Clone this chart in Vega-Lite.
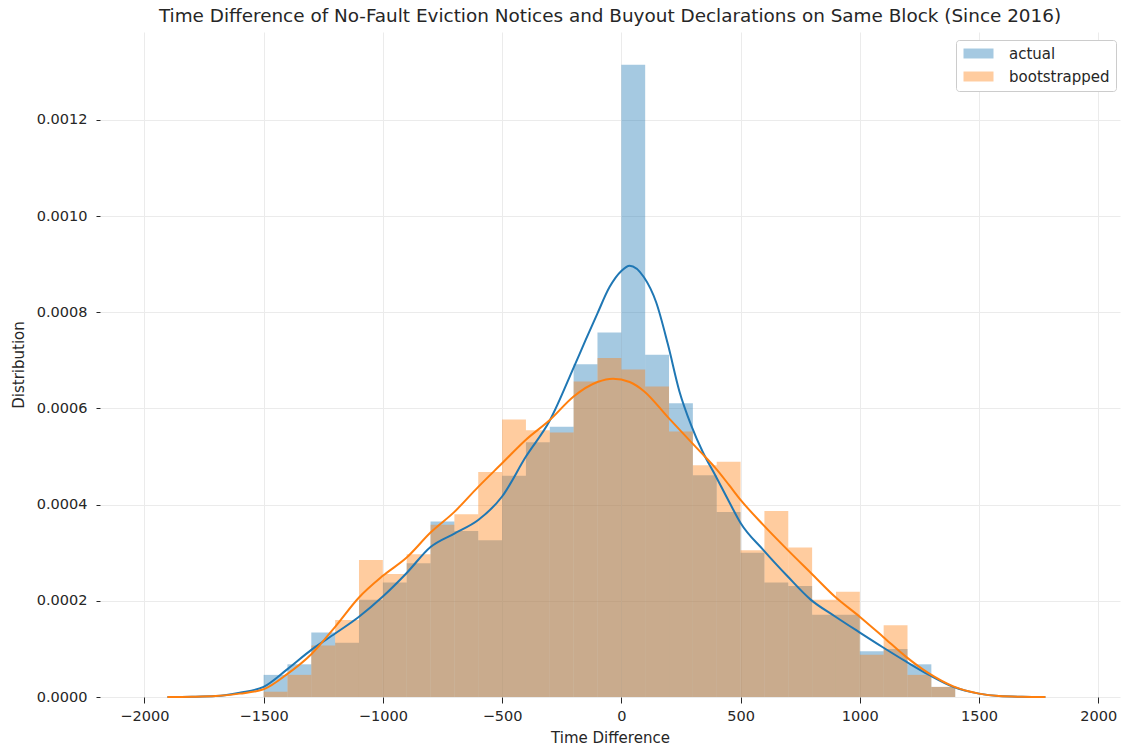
{
  "$schema": "https://vega.github.io/schema/vega-lite/v6.json",
  "width": 1020,
  "height": 665,
  "autosize": {"type": "none"},
  "padding": {"left": 100, "top": 32, "right": 3, "bottom": 49},
  "background": "white",
  "title": {
    "text": "Time Difference of No-Fault Eviction Notices and Buyout Declarations on Same Block (Since 2016)",
    "font": "DejaVu Sans",
    "fontSize": 18.4,
    "fontWeight": "normal",
    "color": "#262626",
    "anchor": "middle",
    "offset": 7
  },
  "config": {
    "view": {"stroke": null},
    "font": "DejaVu Sans",
    "axis": {
      "labelFont": "DejaVu Sans",
      "titleFont": "DejaVu Sans",
      "labelFontSize": 14.5,
      "titleFontSize": 15,
      "titleFontWeight": "normal",
      "labelColor": "#262626",
      "titleColor": "#262626",
      "gridColor": "#ebebeb",
      "gridWidth": 1,
      "domain": false,
      "tickColor": "#262626",
      "tickWidth": 1
    },
    "legend": {
      "labelFont": "DejaVu Sans",
      "labelFontSize": 15,
      "labelColor": "#262626"
    }
  },
  "datasets": {
    "hist": [
      {"series": "actual", "bin_start": -1500, "bin_end": -1400, "density": 0.000046},
      {"series": "actual", "bin_start": -1400, "bin_end": -1300, "density": 0.000068},
      {"series": "actual", "bin_start": -1300, "bin_end": -1200, "density": 0.000134},
      {"series": "actual", "bin_start": -1200, "bin_end": -1100, "density": 0.000113},
      {"series": "actual", "bin_start": -1100, "bin_end": -1000, "density": 0.000202},
      {"series": "actual", "bin_start": -1000, "bin_end": -900, "density": 0.000238},
      {"series": "actual", "bin_start": -900, "bin_end": -800, "density": 0.000278},
      {"series": "actual", "bin_start": -800, "bin_end": -700, "density": 0.000365},
      {"series": "actual", "bin_start": -700, "bin_end": -600, "density": 0.000345},
      {"series": "actual", "bin_start": -600, "bin_end": -500, "density": 0.000326},
      {"series": "actual", "bin_start": -500, "bin_end": -400, "density": 0.00046},
      {"series": "actual", "bin_start": -400, "bin_end": -300, "density": 0.00053},
      {"series": "actual", "bin_start": -300, "bin_end": -200, "density": 0.000562},
      {"series": "actual", "bin_start": -200, "bin_end": -100, "density": 0.000692},
      {"series": "actual", "bin_start": -100, "bin_end": 0, "density": 0.000758},
      {"series": "actual", "bin_start": 0, "bin_end": 100, "density": 0.001315},
      {"series": "actual", "bin_start": 100, "bin_end": 200, "density": 0.000712},
      {"series": "actual", "bin_start": 200, "bin_end": 300, "density": 0.000611},
      {"series": "actual", "bin_start": 300, "bin_end": 400, "density": 0.000461},
      {"series": "actual", "bin_start": 400, "bin_end": 500, "density": 0.000385},
      {"series": "actual", "bin_start": 500, "bin_end": 600, "density": 0.0003},
      {"series": "actual", "bin_start": 600, "bin_end": 700, "density": 0.000238},
      {"series": "actual", "bin_start": 700, "bin_end": 800, "density": 0.000231},
      {"series": "actual", "bin_start": 800, "bin_end": 900, "density": 0.000171},
      {"series": "actual", "bin_start": 900, "bin_end": 1000, "density": 0.000171},
      {"series": "actual", "bin_start": 1000, "bin_end": 1100, "density": 0.000095},
      {"series": "actual", "bin_start": 1100, "bin_end": 1200, "density": 0.0001},
      {"series": "actual", "bin_start": 1200, "bin_end": 1300, "density": 0.000068},
      {"series": "actual", "bin_start": 1300, "bin_end": 1400, "density": 0.000021},
      {"series": "bootstrapped", "bin_start": -1500, "bin_end": -1400, "density": 0.000011},
      {"series": "bootstrapped", "bin_start": -1400, "bin_end": -1300, "density": 0.000046},
      {"series": "bootstrapped", "bin_start": -1300, "bin_end": -1200, "density": 0.000107},
      {"series": "bootstrapped", "bin_start": -1200, "bin_end": -1100, "density": 0.00016},
      {"series": "bootstrapped", "bin_start": -1100, "bin_end": -1000, "density": 0.000285},
      {"series": "bootstrapped", "bin_start": -1000, "bin_end": -900, "density": 0.000256},
      {"series": "bootstrapped", "bin_start": -900, "bin_end": -800, "density": 0.000297},
      {"series": "bootstrapped", "bin_start": -800, "bin_end": -700, "density": 0.000358},
      {"series": "bootstrapped", "bin_start": -700, "bin_end": -600, "density": 0.00038},
      {"series": "bootstrapped", "bin_start": -600, "bin_end": -500, "density": 0.000468},
      {"series": "bootstrapped", "bin_start": -500, "bin_end": -400, "density": 0.000577},
      {"series": "bootstrapped", "bin_start": -400, "bin_end": -300, "density": 0.000555},
      {"series": "bootstrapped", "bin_start": -300, "bin_end": -200, "density": 0.00055},
      {"series": "bootstrapped", "bin_start": -200, "bin_end": -100, "density": 0.000656},
      {"series": "bootstrapped", "bin_start": -100, "bin_end": 0, "density": 0.000705},
      {"series": "bootstrapped", "bin_start": 0, "bin_end": 100, "density": 0.000681},
      {"series": "bootstrapped", "bin_start": 100, "bin_end": 200, "density": 0.000646},
      {"series": "bootstrapped", "bin_start": 200, "bin_end": 300, "density": 0.000552},
      {"series": "bootstrapped", "bin_start": 300, "bin_end": 400, "density": 0.000482},
      {"series": "bootstrapped", "bin_start": 400, "bin_end": 500, "density": 0.000489},
      {"series": "bootstrapped", "bin_start": 500, "bin_end": 600, "density": 0.000305},
      {"series": "bootstrapped", "bin_start": 600, "bin_end": 700, "density": 0.000387},
      {"series": "bootstrapped", "bin_start": 700, "bin_end": 800, "density": 0.000311},
      {"series": "bootstrapped", "bin_start": 800, "bin_end": 900, "density": 0.000202},
      {"series": "bootstrapped", "bin_start": 900, "bin_end": 1000, "density": 0.000219},
      {"series": "bootstrapped", "bin_start": 1000, "bin_end": 1100, "density": 0.000088},
      {"series": "bootstrapped", "bin_start": 1100, "bin_end": 1200, "density": 0.000149},
      {"series": "bootstrapped", "bin_start": 1200, "bin_end": 1300, "density": 0.000046},
      {"series": "bootstrapped", "bin_start": 1300, "bin_end": 1400, "density": 0.000021}
    ],
    "kde": [
      {"series": "actual", "x": -1903, "density": 0.0},
      {"series": "actual", "x": -1800, "density": 0.0000005},
      {"series": "actual", "x": -1700, "density": 0.000002},
      {"series": "actual", "x": -1600, "density": 0.000009},
      {"series": "actual", "x": -1500, "density": 0.000021},
      {"series": "actual", "x": -1400, "density": 0.000058},
      {"series": "actual", "x": -1300, "density": 0.000098},
      {"series": "actual", "x": -1200, "density": 0.000132},
      {"series": "actual", "x": -1100, "density": 0.000167},
      {"series": "actual", "x": -1000, "density": 0.000209},
      {"series": "actual", "x": -900, "density": 0.000258},
      {"series": "actual", "x": -800, "density": 0.000312},
      {"series": "actual", "x": -700, "density": 0.00034},
      {"series": "actual", "x": -600, "density": 0.000368},
      {"series": "actual", "x": -500, "density": 0.000417},
      {"series": "actual", "x": -400, "density": 0.0005},
      {"series": "actual", "x": -300, "density": 0.000575},
      {"series": "actual", "x": -200, "density": 0.000685},
      {"series": "actual", "x": -150, "density": 0.000742},
      {"series": "actual", "x": -100, "density": 0.000798},
      {"series": "actual", "x": -50, "density": 0.000852},
      {"series": "actual", "x": 0, "density": 0.000886},
      {"series": "actual", "x": 35, "density": 0.000897},
      {"series": "actual", "x": 95, "density": 0.000873},
      {"series": "actual", "x": 146, "density": 0.000821},
      {"series": "actual", "x": 195, "density": 0.000734},
      {"series": "actual", "x": 244, "density": 0.000635},
      {"series": "actual", "x": 293, "density": 0.000565},
      {"series": "actual", "x": 341, "density": 0.00051},
      {"series": "actual", "x": 395, "density": 0.00046},
      {"series": "actual", "x": 453, "density": 0.000405},
      {"series": "actual", "x": 500, "density": 0.000362},
      {"series": "actual", "x": 595, "density": 0.000306},
      {"series": "actual", "x": 697, "density": 0.000251},
      {"series": "actual", "x": 795, "density": 0.000202},
      {"series": "actual", "x": 895, "density": 0.000168},
      {"series": "actual", "x": 997, "density": 0.000135},
      {"series": "actual", "x": 1098, "density": 0.000103},
      {"series": "actual", "x": 1193, "density": 0.000074},
      {"series": "actual", "x": 1290, "density": 0.000046},
      {"series": "actual", "x": 1392, "density": 0.000021},
      {"series": "actual", "x": 1500, "density": 0.000007},
      {"series": "actual", "x": 1583, "density": 0.000002},
      {"series": "actual", "x": 1680, "density": 0.0000005},
      {"series": "actual", "x": 1778, "density": 0.0},
      {"series": "bootstrapped", "x": -1903, "density": 0.0},
      {"series": "bootstrapped", "x": -1800, "density": 0.0000005},
      {"series": "bootstrapped", "x": -1700, "density": 0.000002},
      {"series": "bootstrapped", "x": -1600, "density": 0.000007},
      {"series": "bootstrapped", "x": -1500, "density": 0.000016},
      {"series": "bootstrapped", "x": -1400, "density": 0.000048},
      {"series": "bootstrapped", "x": -1300, "density": 0.000089},
      {"series": "bootstrapped", "x": -1200, "density": 0.000146},
      {"series": "bootstrapped", "x": -1100, "density": 0.000207},
      {"series": "bootstrapped", "x": -1000, "density": 0.000252},
      {"series": "bootstrapped", "x": -900, "density": 0.00029},
      {"series": "bootstrapped", "x": -800, "density": 0.000342},
      {"series": "bootstrapped", "x": -700, "density": 0.000385},
      {"series": "bootstrapped", "x": -600, "density": 0.000437},
      {"series": "bootstrapped", "x": -500, "density": 0.000486},
      {"series": "bootstrapped", "x": -400, "density": 0.000535},
      {"series": "bootstrapped", "x": -300, "density": 0.000576},
      {"series": "bootstrapped", "x": -200, "density": 0.000625},
      {"series": "bootstrapped", "x": -100, "density": 0.000655},
      {"series": "bootstrapped", "x": -35, "density": 0.000662},
      {"series": "bootstrapped", "x": 35, "density": 0.000655},
      {"series": "bootstrapped", "x": 95, "density": 0.000636},
      {"series": "bootstrapped", "x": 195, "density": 0.000582},
      {"series": "bootstrapped", "x": 293, "density": 0.00053},
      {"series": "bootstrapped", "x": 341, "density": 0.000505},
      {"series": "bootstrapped", "x": 395, "density": 0.000476},
      {"series": "bootstrapped", "x": 453, "density": 0.00044},
      {"series": "bootstrapped", "x": 500, "density": 0.00041},
      {"series": "bootstrapped", "x": 595, "density": 0.000358},
      {"series": "bootstrapped", "x": 697, "density": 0.000306},
      {"series": "bootstrapped", "x": 795, "density": 0.000258},
      {"series": "bootstrapped", "x": 895, "density": 0.000209},
      {"series": "bootstrapped", "x": 997, "density": 0.000168},
      {"series": "bootstrapped", "x": 1098, "density": 0.000125},
      {"series": "bootstrapped", "x": 1193, "density": 0.000084},
      {"series": "bootstrapped", "x": 1290, "density": 0.000049},
      {"series": "bootstrapped", "x": 1392, "density": 0.000022},
      {"series": "bootstrapped", "x": 1500, "density": 0.000007},
      {"series": "bootstrapped", "x": 1583, "density": 0.000002},
      {"series": "bootstrapped", "x": 1680, "density": 0.0000005},
      {"series": "bootstrapped", "x": 1778, "density": 0.0}
    ]
  },
  "encoding": {
    "x": {
      "field": "x",
      "type": "quantitative",
      "scale": {"domain": [-2186, 2091], "nice": false, "zero": false, "padding": 0},
      "axis": {
        "title": "Time Difference",
        "values": [-2000, -1500, -1000, -500, 0, 500, 1000, 1500, 2000],
        "format": "d",
        "tickSize": 6,
        "labelPadding": 6,
        "titlePadding": 8,
        "grid": true
      }
    },
    "y": {
      "field": "density",
      "type": "quantitative",
      "scale": {"domain": [0, 0.001383], "nice": false, "zero": true, "padding": 0},
      "axis": {
        "title": "Distribution",
        "values": [0, 0.0002, 0.0004, 0.0006, 0.0008, 0.001, 0.0012],
        "format": ".4f",
        "tickSize": 4,
        "labelPadding": 9,
        "titlePadding": 10,
        "grid": true
      }
    }
  },
  "layer": [
    {
      "data": {"name": "hist"},
      "transform": [{"filter": "datum.series === 'actual'"}],
      "mark": {"type": "bar", "opacity": 0.4, "stroke": null, "orient": "vertical"},
      "encoding": {
        "x": {"field": "bin_start", "type": "quantitative"},
        "x2": {"field": "bin_end"},
        "y2": {"datum": 0},
        "fill": {
          "field": "series",
          "type": "nominal",
          "scale": {"domain": ["actual", "bootstrapped"], "range": ["#1f77b4", "#ff7f0e"]},
          "legend": {
            "title": null,
            "orient": "none",
            "legendX": 856,
            "legendY": 8,
            "padding": 6,
            "strokeColor": "#cccccc",
            "fillColor": "white",
            "cornerRadius": 3,
            "symbolType": "M-1,-0.83H4V0.83H-1Z",
            "symbolSize": 144,
            "symbolOpacity": 0.4,
            "symbolStrokeWidth": 0,
            "labelOffset": 32,
            "rowPadding": 7,
            "labelFontSize": 15
          }
        }
      }
    },
    {
      "data": {"name": "hist"},
      "transform": [{"filter": "datum.series === 'bootstrapped'"}],
      "mark": {"type": "bar", "opacity": 0.4, "stroke": null, "orient": "vertical"},
      "encoding": {
        "x": {"field": "bin_start", "type": "quantitative"},
        "x2": {"field": "bin_end"},
        "y2": {"datum": 0},
        "fill": {"field": "series", "type": "nominal"}
      }
    },
    {
      "data": {"name": "kde"},
      "transform": [{"filter": "datum.series === 'actual'"}],
      "mark": {"type": "line", "strokeWidth": 2, "interpolate": "monotone", "color": "#1f77b4"},
      "encoding": {}
    },
    {
      "data": {"name": "kde"},
      "transform": [{"filter": "datum.series === 'bootstrapped'"}],
      "mark": {"type": "line", "strokeWidth": 2, "interpolate": "monotone", "color": "#ff7f0e"},
      "encoding": {}
    }
  ]
}
